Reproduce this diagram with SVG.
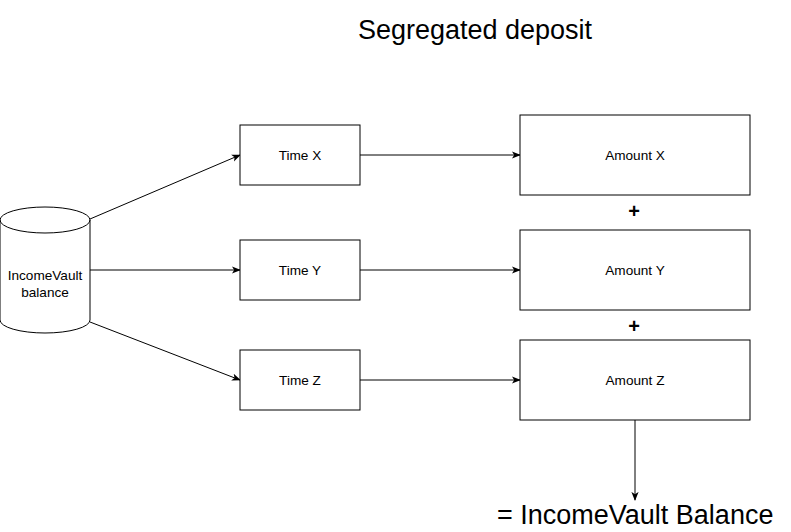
<svg xmlns="http://www.w3.org/2000/svg" width="791" height="532" viewBox="0 0 791 532">
<defs>
<style>
.box{fill:#fff;stroke:#000;stroke-width:1}
.t{font-family:"Liberation Sans",Arial,sans-serif;font-size:13.6px;fill:#000;text-anchor:middle}
.big{font-family:"Liberation Sans",Arial,sans-serif;font-size:27px;fill:#000}
.plus{font-family:"Liberation Sans",Arial,sans-serif;font-size:20px;font-weight:bold;fill:#000;text-anchor:middle}
.c{fill:none;stroke:#000;stroke-width:1;marker-end:url(#ah)}
</style>
<marker id="ah" viewBox="0 0 10 10" refX="9" refY="5" markerWidth="9" markerHeight="9" markerUnits="userSpaceOnUse" orient="auto">
<path d="M0,1 L10,5 L0,9 L2.5,5 Z" fill="#000"/>
</marker>
</defs>
<rect width="791" height="532" fill="#fff"/>
<text class="big" x="475" y="39" text-anchor="middle">Segregated deposit</text>
<g id="connectors">
<path class="c" d="M90,219 L240,155"/>
<path class="c" d="M90,270 L240,270"/>
<path class="c" d="M90,322 L240,380"/>
<path class="c" d="M360,155 L520,155"/>
<path class="c" d="M360,270 L520,270"/>
<path class="c" d="M360,380 L520,380"/>
<path class="c" d="M635,420 L635,500"/>
</g>
<g id="vault">
<path class="box" d="M0,220 A45,13 0 0 1 90,220 L90,320 A45,13 0 0 1 0,320 Z"/>
<path class="box" style="fill:none" d="M0,220 A45,13 0 0 0 90,220"/>
<text class="t" x="45" y="280">IncomeVault</text>
<text class="t" x="45" y="297">balance</text>
</g>
<g id="timeX"><rect class="box" x="240" y="125" width="120" height="60"/><text class="t" x="300" y="160">Time X</text></g>
<g id="timeY"><rect class="box" x="240" y="240" width="120" height="60"/><text class="t" x="300" y="275">Time Y</text></g>
<g id="timeZ"><rect class="box" x="240" y="350" width="120" height="60"/><text class="t" x="300" y="385">Time Z</text></g>
<g id="amountX"><rect class="box" x="520" y="115" width="230" height="80"/><text class="t" x="635" y="160">Amount X</text></g>
<g id="amountY"><rect class="box" x="520" y="230" width="230" height="80"/><text class="t" x="635" y="275">Amount Y</text></g>
<g id="amountZ"><rect class="box" x="520" y="340" width="230" height="80"/><text class="t" x="635" y="385">Amount Z</text></g>
<g id="plus1"><text class="plus" x="634" y="218">+</text></g>
<g id="plus2"><text class="plus" x="634" y="333">+</text></g>
<g id="result"><text class="big" x="497" y="524">= IncomeVault Balance</text></g>
</svg>
